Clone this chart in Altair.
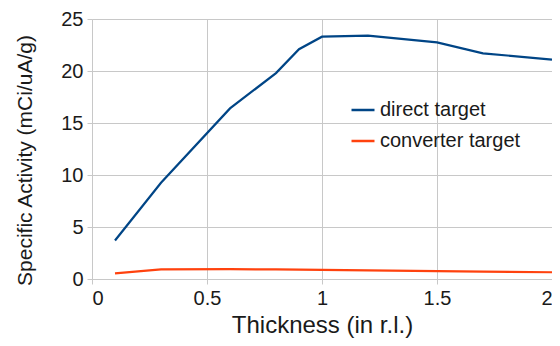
import altair as alt
import pandas as pd

thickness = [0.1, 0.3, 0.6, 0.8, 0.9, 1.0, 1.2, 1.5, 1.7, 2.0]
direct_target = [3.7, 9.25, 16.4, 19.8, 22.1, 23.3, 23.4, 22.75, 21.7, 21.1]
converter_target = [0.55, 0.93, 0.94, 0.93, 0.9, 0.87, 0.82, 0.76, 0.71, 0.65]
series_names = ["direct target", "converter target"]
series_colors = ["#004586", "#ff420e"]

rows = []
for name, vals in zip(series_names, [direct_target, converter_target]):
    for t, v in zip(thickness, vals):
        rows.append({"thickness": t, "activity": v, "series": name})
df = pd.DataFrame(rows)

FONT = "Liberation Sans"
GRID = "#c8c8c8"

chart = alt.Chart(df).mark_line(strokeWidth=2.2).encode(
    x=alt.X("thickness:Q",
            scale=alt.Scale(domain=[0, 2], nice=False, zero=False),
            axis=alt.Axis(title="Thickness (in r.l.)", values=[0, 0.5, 1, 1.5, 2],
                          format="~g", titleFontSize=24, titleY=53,
                          titleBaseline="alphabetic", labelFlush=True)),
    y=alt.Y("activity:Q",
            scale=alt.Scale(domain=[0, 25], nice=False),
            axis=alt.Axis(title="Specific Activity (mCi/uA/g)", values=[0, 5, 10, 15, 20, 25],
                          titleX=-67, titleY=141, titleBaseline="middle", titleAlign="center")),
    color=alt.Color("series:N",
                    scale=alt.Scale(domain=series_names, range=series_colors),
                    legend=alt.Legend(title=None, orient="none", legendX=258, legendY=78,
                                      symbolType="stroke", symbolSize=529, symbolStrokeWidth=2.5,
                                      labelFontSize=20, labelFont=FONT, labelColor="#1a1a1a",
                                      labelOffset=4, rowPadding=8, padding=0)),
    order=alt.Order("thickness:Q"),
).properties(
    width=460, height=260,
    padding={"left": 84, "top": 11, "right": 0, "bottom": 59},
    autosize=alt.AutoSizeParams(type="none"),
).configure_view(
    stroke=None
).configure_axis(
    grid=True, gridColor=GRID, gridWidth=1,
    domainColor=GRID, tickColor=GRID, tickSize=5,
    labelFont=FONT, labelFontSize=20, labelColor="#1a1a1a", labelPadding=4,
    titleFont=FONT, titleFontSize=22, titleFontWeight="normal", titleColor="#1a1a1a",
).configure_axisY(
    titleFontSize=21
)

chart.save("out.html", embed_options={"renderer": "svg", "actions": False})
